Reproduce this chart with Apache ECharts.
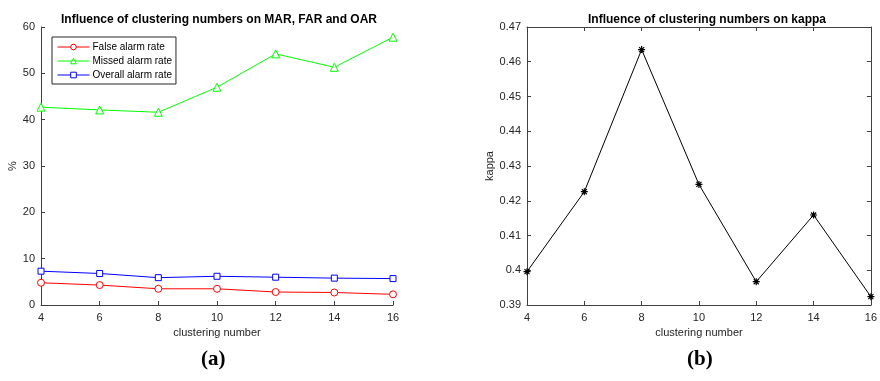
<!DOCTYPE html>
<html>
<head>
<meta charset="utf-8">
<script src="https://cdn.jsdelivr.net/npm/echarts@6/dist/echarts.min.js"></script>
<style>
  html, body { margin: 0; padding: 0; background: #fff; }
  #chart { width: 880px; height: 381px; }
</style>
</head>
<body>
<div id="chart"></div>
<script>
// Clustering numbers tested
const clusterNumbers = [4, 6, 8, 10, 12, 14, 16];

// Alarm rates (%) per clustering number
const falseAlarmRate   = [4.8, 4.3, 3.5, 3.5, 2.8, 2.7, 2.3];
const missedAlarmRate  = [42.7, 42.1, 41.6, 47.0, 54.2, 51.3, 57.8];
const overallAlarmRate = [7.3, 6.8, 5.9, 6.2, 6.0, 5.8, 5.7];

// Kappa coefficient per clustering number
const kappaValues = [0.3996, 0.4226, 0.4635, 0.4247, 0.3967, 0.4159, 0.3924];

const pairs = vals => clusterNumbers.map((c, i) => [c, vals[i]]);

const FONT = 'Liberation Sans, Arial, sans-serif';
const AXIS_COLOR = '#404040';
const LABEL_COLOR = '#262626';

const asterisk = 'path://M0,-5L0,5M-5,0L5,0M-3.6,-3.6L3.6,3.6M-3.6,3.6L3.6,-3.6';

function xAxisCfg(gridIndex, extra) {
  return Object.assign({
    type: 'value', gridIndex, min: 4, max: 16, interval: 2,
    name: 'clustering number', nameLocation: 'middle', nameGap: 22,
    nameTextStyle: { fontFamily: FONT, fontSize: 11, color: LABEL_COLOR },
    axisLine: { show: true, lineStyle: { color: AXIS_COLOR, width: 1 } },
    axisTick: { show: true, inside: true, length: 4, lineStyle: { color: AXIS_COLOR } },
    axisLabel: { fontFamily: FONT, fontSize: 11, color: LABEL_COLOR, margin: 7 },
    splitLine: { show: false }
  }, extra || {});
}

const option = {
  animation: false,
  backgroundColor: '#fff',
  title: [
    { text: 'Influence of clustering numbers on MAR, FAR and OAR', left: 214, top: 9, textAlign: 'center',
      textStyle: { fontFamily: FONT, fontSize: 12, fontWeight: 'bold', color: '#000' } },
    { text: 'Influence of clustering numbers on kappa', left: 702, top: 9, textAlign: 'center',
      textStyle: { fontFamily: FONT, fontSize: 12, fontWeight: 'bold', color: '#000' } }
  ],
  legend: {
    orient: 'vertical', left: 52, top: 37,
    padding: [5, 4, 4, 5], itemGap: 4, itemWidth: 32, itemHeight: 7,
    backgroundColor: '#fff', borderColor: '#262626', borderWidth: 1,
    lineStyle: { width: 1 },
    itemStyle: { color: '#fff', borderWidth: 1 },
    textStyle: { fontFamily: FONT, fontSize: 10, color: '#000', padding: [0, 0, 0, -2] },
    data: ['False alarm rate', 'Missed alarm rate', 'Overall alarm rate']
  },
  grid: [
    { left: 41, right: 487, top: 27, bottom: 76 },
    { left: 527, right: 2, top: 27, bottom: 76 }
  ],
  xAxis: [
    xAxisCfg(0),
    xAxisCfg(1),
    // top border of the kappa panel
    { type: 'value', gridIndex: 1, position: 'top', min: 4, max: 16, interval: 2,
      axisLine: { show: true, lineStyle: { color: AXIS_COLOR } },
      axisTick: { show: true, inside: true, length: 4, lineStyle: { color: AXIS_COLOR } },
      axisLabel: { show: false }, splitLine: { show: false } }
  ],
  yAxis: [
    { type: 'value', gridIndex: 0, min: 0, max: 60, interval: 10,
      name: '%', nameLocation: 'middle', nameGap: 21,
      nameTextStyle: { fontFamily: FONT, fontSize: 11, color: LABEL_COLOR },
      axisLine: { show: true, lineStyle: { color: AXIS_COLOR } },
      axisTick: { show: true, inside: true, length: 4, lineStyle: { color: AXIS_COLOR } },
      axisLabel: { fontFamily: FONT, fontSize: 11, color: LABEL_COLOR, margin: 6 },
      splitLine: { show: false } },
    { type: 'value', gridIndex: 1, min: 0.39, max: 0.47, interval: 0.01,
      name: 'kappa', nameLocation: 'middle', nameGap: 31,
      nameTextStyle: { fontFamily: FONT, fontSize: 11, color: LABEL_COLOR },
      axisLine: { show: true, lineStyle: { color: AXIS_COLOR } },
      axisTick: { show: true, inside: true, length: 4, lineStyle: { color: AXIS_COLOR } },
      axisLabel: { fontFamily: FONT, fontSize: 11, color: LABEL_COLOR, margin: 6,
                   formatter: v => String(parseFloat(v.toFixed(2))) },
      splitLine: { show: false } },
    // right border of the kappa panel
    { type: 'value', gridIndex: 1, position: 'right', min: 0.39, max: 0.47, interval: 0.01,
      axisLine: { show: true, lineStyle: { color: AXIS_COLOR } },
      axisTick: { show: true, inside: true, length: 4, lineStyle: { color: AXIS_COLOR } },
      axisLabel: { show: false }, splitLine: { show: false } }
  ],
  series: [
    { name: 'False alarm rate', type: 'line', xAxisIndex: 0, yAxisIndex: 0,
      data: pairs(falseAlarmRate), symbol: 'circle', symbolSize: 7,
      lineStyle: { color: '#ff0000', width: 1 },
      itemStyle: { color: '#fff', borderColor: '#ff0000', borderWidth: 1 } },
    { name: 'Missed alarm rate', type: 'line', xAxisIndex: 0, yAxisIndex: 0,
      data: pairs(missedAlarmRate), symbol: 'triangle', symbolSize: 8,
      lineStyle: { color: '#00ff00', width: 1 },
      itemStyle: { color: '#fff', borderColor: '#00ff00', borderWidth: 1 } },
    { name: 'Overall alarm rate', type: 'line', xAxisIndex: 0, yAxisIndex: 0,
      data: pairs(overallAlarmRate), symbol: 'rect', symbolSize: 6,
      lineStyle: { color: '#0000ff', width: 1 },
      itemStyle: { color: '#fff', borderColor: '#0000ff', borderWidth: 1 } },
    { name: 'kappa', type: 'line', xAxisIndex: 1, yAxisIndex: 1,
      data: pairs(kappaValues), symbol: asterisk, symbolSize: 7,
      lineStyle: { color: '#000', width: 1 },
      itemStyle: { color: 'none', borderColor: '#000', borderWidth: 1.2 } }
  ],
  graphic: [
    { type: 'text', left: 201, top: 349,
      style: { text: '(a)', font: 'bold 21px "Liberation Serif", "DejaVu Serif", serif', fill: '#000' } },
    { type: 'text', left: 687, top: 349,
      style: { text: '(b)', font: 'bold 21px "Liberation Serif", "DejaVu Serif", serif', fill: '#000' } }
  ]
};

const chart = echarts.init(document.getElementById('chart'), null, { renderer: 'canvas' });
chart.setOption(option);
</script>
</body>
</html>
